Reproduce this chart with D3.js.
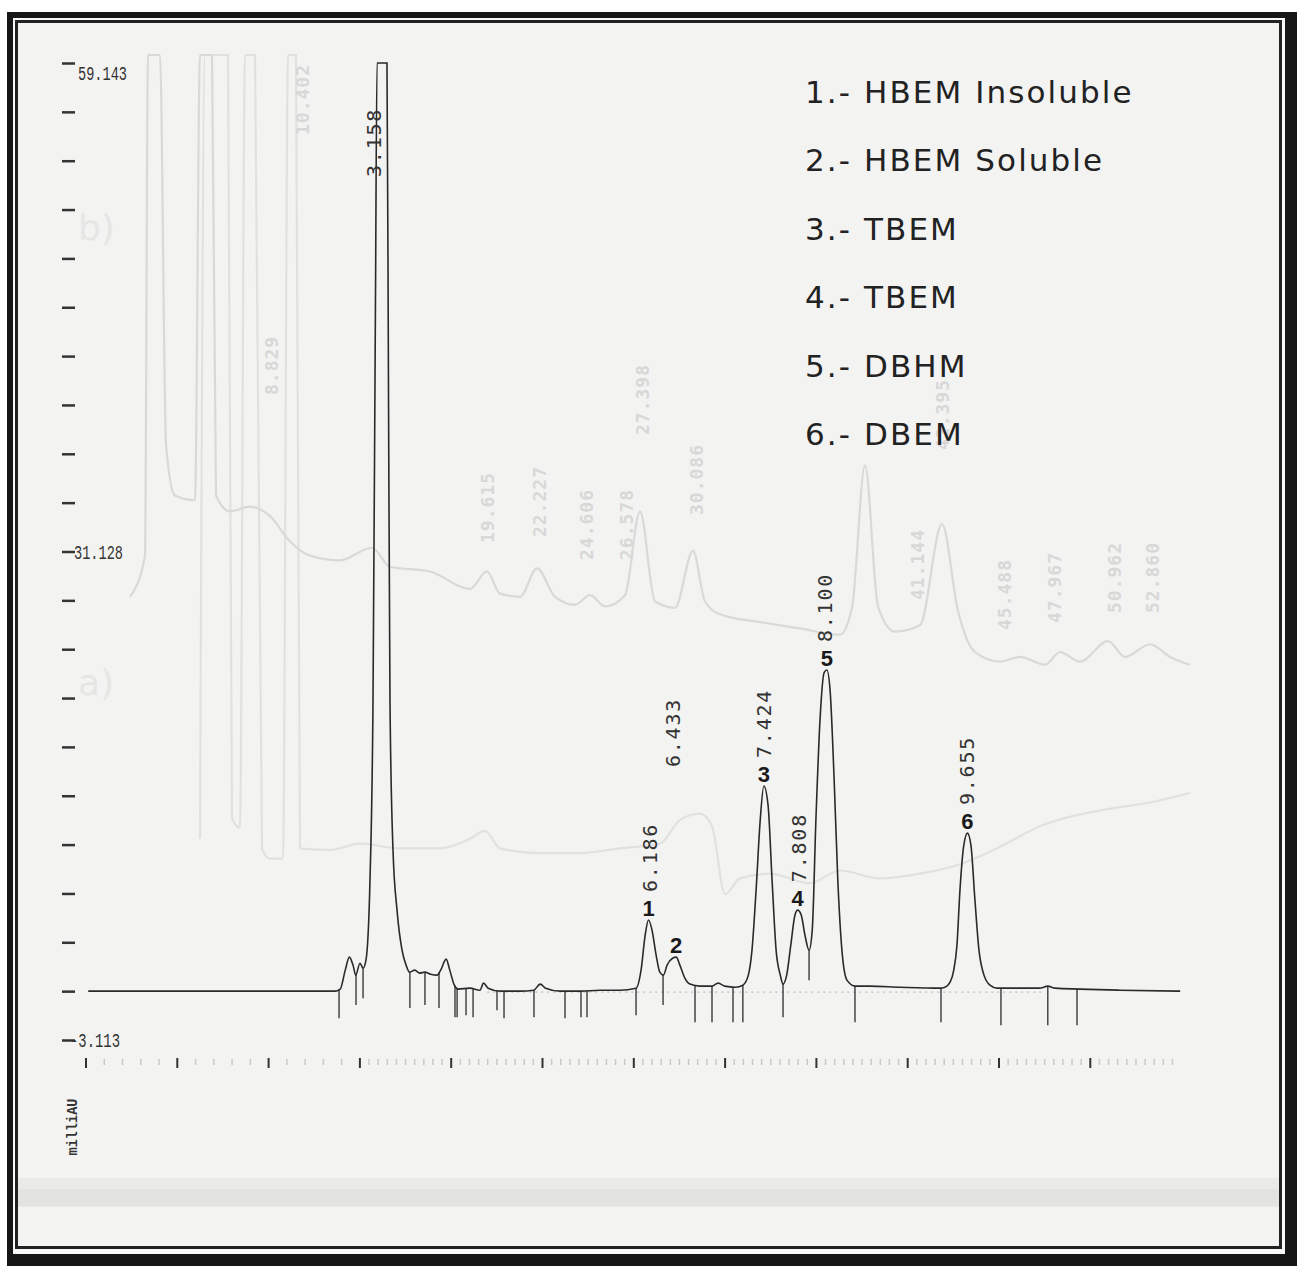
<!DOCTYPE html>
<html><head><meta charset="utf-8">
<script src="https://cdn.jsdelivr.net/npm/d3@7"></script>
<style>html,body{margin:0;padding:0;background:#fff;}svg{display:block}</style>
</head><body>
<svg id="chart" width="1297" height="1266"></svg>
<script>
// ---------------- DATA ----------------
// main chromatogram (time in min, signal in milliAU)
const mainTrace = [
 [0.03,0],[1.25,0],[2.73,0],[2.79,0.13],[2.845,1.34],[2.89,2.17],[2.93,1.66],[2.96,1.02],[3.006,1.78],[3.04,1.47],
 [3.072,1.98],[3.116,7.07],[3.149,18.5],[3.176,44.0],[3.193,59.2],[3.226,61.2],[3.258,61.2],[3.302,59.2],[3.319,37.7],[3.335,18.5],
 [3.368,8.99],[3.412,5.16],[3.467,2.61],[3.511,1.66],[3.55,1.21],[3.606,1.34],[3.66,1.15],[3.716,1.21],[3.78,1.08],[3.85,1.02],
 [3.89,1.34],[3.95,2.04],[3.99,1.34],[4.04,0.38],[4.08,0.13],[4.21,0.19],[4.32,0.06],[4.36,0.51],[4.41,0.19],[4.54,0],
 [4.76,0],[4.91,0.06],[4.98,0.45],[5.04,0.19],[5.2,0],[5.42,0],[5.64,0.06],[5.85,0.06],[6.03,0.19],[6.085,1.34],
 [6.13,3.57],[6.167,4.53],[6.205,3.89],[6.25,2.29],[6.29,1.21],[6.33,1.02],[6.37,1.66],[6.43,2.10],[6.47,2.17],[6.51,1.66],
 [6.565,0.83],[6.62,0.45],[6.73,0.32],[6.86,0.32],[6.93,0.51],[7.0,0.32],[7.12,0.25],[7.2,0.38],[7.26,1.02],[7.3,2.61],
 [7.345,6.44],[7.39,10.9],[7.43,13.07],[7.476,11.85],[7.52,7.07],[7.564,2.61],[7.61,1.02],[7.64,0.45],[7.68,1.02],[7.725,2.93],
 [7.77,4.84],[7.8,5.16],[7.84,4.84],[7.88,3.57],[7.925,2.61],[7.96,3.89],[8.0,10.9],[8.045,17.27],[8.09,20.3],[8.12,20.46],
 [8.155,19.2],[8.2,13.45],[8.24,7.07],[8.285,2.61],[8.34,0.70],[8.43,0.32],[8.59,0.32],[8.92,0.25],[9.36,0.19],[9.414,0.25],
 [9.47,0.57],[9.51,1.34],[9.545,2.93],[9.578,6.44],[9.62,9.3],[9.66,10.07],[9.698,9.3],[9.742,5.8],[9.786,2.61],[9.841,1.02],
 [9.907,0.38],[9.983,0.19],[10.12,0.19],[10.45,0.19],[10.54,0.32],[10.62,0.19],[10.89,0.13],[11.33,0.06],[11.99,0]
];
// integration marks (time, lower end in milliAU)
const dropTime = [2.777,2.963,3.04,3.553,3.718,3.872,4.047,4.07,4.168,4.245,4.507,4.584,4.912,5.252,5.427,5.493,6.03,6.326,6.676,6.862,7.092,7.2,7.64,7.925,8.428,9.37,10.027,10.54,10.86];
const dropEnd  = [-1.72,-0.89,-0.45,-1.08,-0.89,-1.08,-1.66,-1.66,-1.53,-1.66,-1.21,-1.72,-1.66,-1.72,-1.66,-1.66,-1.53,-0.89,-1.98,-1.98,-1.98,-1.98,-1.66,0.70,-1.98,-1.98,-2.17,-2.17,-2.17];
// peak annotations
const peakRT     = ["3.158","6.186","6.433","7.424","7.808","8.100","9.655"];
const peakApex   = [3.242,6.167,6.47,7.43,7.8,8.12,9.66];
const peakNumber = ["","1","2","3","4","5","6"];
// legend
const legendItems = ["1.- HBEM Insoluble","2.- HBEM Soluble","3.- TBEM","4.- TBEM","5.- DBHM","6.- DBEM"];
// axis labels
const yTickLabels = ["59.143","31.128","-3.113"];
const yMax = 59.143, yMin = -3.113;
const xMajorTicks = d3.range(0, 12);
const xMinorTicks = d3.range(0.2, 3, 0.2).concat(d3.range(3.1, 12.05, 0.1)).filter(t => Math.abs(t - Math.round(t)) > 0.01);
const yAxisLabel = "milliAU";

// faint background run (bleed-through), its own time axis
const ghostA = [
 [1.75,24.9],[2.5,27.5],[2.65,65],[3.25,65],[3.55,34.5],[4.0,31.3],[5.0,31.0],[5.25,65],[5.85,65],[6.05,31.3],
 [6.75,30.3],[7.75,30.6],[8.75,30.0],[9.75,28.4],[10.75,27.5],[12.25,27.2],[13.85,28.0],[14.75,26.8],[16.75,26.5],[18.75,25.4],
 [19.6,26.5],[20.25,25.1],[21.25,24.9],[22.1,26.7],[23.0,24.9],[24.0,24.4],[24.75,25.0],[25.5,24.3],[26.5,25.0],[27.25,30.3],
 [28.0,24.6],[29.0,24.2],[29.9,27.8],[30.5,24.6],[31.25,23.8],[33.25,23.3],[35.25,22.9],[37.25,22.5],[37.85,24.2],[38.5,33.2],
 [39.15,24.3],[40.0,22.7],[41.25,23.1],[42.35,29.5],[43.15,24.0],[44.0,21.4],[45.25,20.8],[46.25,21.1],[47.5,20.6],[48.25,21.4],
 [49.25,20.8],[50.65,22.1],[51.5,21.1],[52.75,21.9],[53.75,21.1],[54.75,20.6]
];
const ghostB = [
 [5.25,9.6],[5.5,65],[6.65,65],[6.85,10.9],[7.25,10.3],[7.5,65],[8.0,65],[8.35,9.0],[8.75,8.35],[9.4,8.35],
 [9.65,65],[10.05,65],[10.25,9.0],[11.75,8.9],[13.25,9.3],[15.25,9.0],[17.25,9.0],[18.75,9.6],[19.5,10.1],[20.25,9.0],
 [22.25,8.7],[24.25,8.7],[26.25,9.0],[28.25,9.3],[29.25,10.8],[30.25,11.2],[30.85,10.4],[31.5,6.1],[32.25,7.1],[33.75,7.4],
 [35.75,6.8],[37.25,7.6],[39.25,7.1],[41.25,7.4],[43.25,8.0],[45.25,9.1],[47.25,10.4],[50.25,11.4],[52.75,11.9],[54.75,12.5]
];
const ghostRT = ["8.829","10.402","19.615","22.227","24.606","26.578","27.398","30.086","41.144","42.395","45.488","47.967","50.962","52.860"];

// ---------------- LAYOUT ----------------
const W = 1297, H = 1266;
const plot = {x0: 85.5, pxPerMin: 91.3, yTop: 63, yBottom: 1040};
const ghostLabelBottom = [395,135,543,537,560,560,435,515,600,450,630,623,613,613];
const labelGap = 28;
const labelShift = {"3.158": 142, "6.433": -162};

const svg = d3.select("#chart");

// frame
svg.append("rect").attr("x",0).attr("y",0).attr("width",W).attr("height",H).attr("fill","#ffffff");
svg.append("rect").attr("x",7).attr("y",12).attr("width",W-7).attr("height",H-12).attr("fill","#161616");
svg.append("rect").attr("x",13).attr("y",18).attr("width",1272).attr("height",1236).attr("fill","#f8f8f8");
svg.append("rect").attr("x",16.5).attr("y",21.5).attr("width",1264).attr("height",1226)
   .attr("fill","#f3f3f2").attr("stroke","#222").attr("stroke-width",3);
// scan band
svg.append("rect").attr("x",18).attr("y",1178).attr("width",1261).attr("height",29).attr("fill","#eaeae9");
svg.append("rect").attr("x",18).attr("y",1189).attr("width",1261).attr("height",17).attr("fill","#e3e3e2");

// scales
const x = d3.scaleLinear().domain([0, 12]).range([plot.x0, plot.x0 + 12*plot.pxPerMin]);
const y = d3.scaleLinear().domain([yMin, yMax]).range([plot.yBottom, plot.yTop]).clamp(true);
const xg = d3.scaleLinear().domain([0, 55]).range([95, 1195]);
const yg = d3.scaleLinear().domain([yMin, yMax]).range([plot.yBottom, plot.yTop - 8]).clamp(true);

// ghost traces
const gline = d3.line().x(d => xg(d[0])).y(d => yg(d[1])).curve(d3.curveMonotoneX);
svg.append("path").datum(ghostB).attr("d", gline).attr("fill","none").attr("stroke","#e1e1e0").attr("stroke-width",2.2);
svg.append("path").datum(ghostA).attr("d", gline).attr("fill","none").attr("stroke","#d9d9d8").attr("stroke-width",2.2);
svg.append("g").selectAll("text").data(ghostRT).join("text")
  .attr("transform",(d,i)=>`translate(${xg(+d)},${ghostLabelBottom[i]}) rotate(-90)`)
  .attr("dy","0.35em")
  .attr("font-family","'DejaVu Sans Mono', monospace").attr("font-size",18).attr("font-weight","bold")
  .attr("fill","#d8d8d7").attr("letter-spacing",1).text(d=>d);
svg.append("text").attr("x",78).attr("y",240).attr("font-family","'DejaVu Sans'").attr("font-size",36)
  .attr("fill","#e6e6e5").text("b)");
svg.append("text").attr("x",78).attr("y",695).attr("font-family","'DejaVu Sans'").attr("font-size",36)
  .attr("fill","#e6e6e5").text("a)");

// y axis
const yIdx = d3.scaleLinear().domain([0, 20]).range([y(yMax), y(yMin)]);
const yAxisG = svg.append("g").attr("transform","translate(75,0)")
  .call(d3.axisLeft(yIdx).tickValues(d3.range(0,21)).tickSize(13).tickFormat(""));
yAxisG.select(".domain").remove();
yAxisG.selectAll(".tick line").attr("stroke","#333").attr("stroke-width",2.5);
const yLabIdx = [0,10,20];
const yLabX = [78, 74, 70];
const yLabDy = [17, 7, 7];
svg.append("g").selectAll("text").data(yTickLabels).join("text")
  .attr("x",(d,i)=>yLabX[i]).attr("y",(d,i)=>yIdx(yLabIdx[i]) + yLabDy[i])
  .attr("font-family","'Liberation Mono', monospace").attr("font-size",21)
  .attr("textLength",(d,i)=> i===2 ? 50 : 49).attr("lengthAdjust","spacingAndGlyphs")
  .attr("fill","#333").text(d=>d);
svg.append("text").attr("transform","translate(72,1127) rotate(-90)")
  .attr("text-anchor","middle").attr("dy","0.35em")
  .attr("font-family","'Liberation Mono', monospace").attr("font-size",15).attr("font-weight","bold")
  .attr("textLength",57).attr("lengthAdjust","spacingAndGlyphs")
  .attr("fill","#333").text(yAxisLabel);

// x axis
const xMinorG = svg.append("g").attr("transform","translate(0,1059)")
  .call(d3.axisBottom(x).tickValues(xMinorTicks).tickSize(6).tickFormat(""));
xMinorG.select(".domain").remove();
xMinorG.selectAll(".tick line").attr("stroke","#c8c8c8").attr("stroke-width",1.5);
const xMajorG = svg.append("g").attr("transform","translate(0,1058)")
  .call(d3.axisBottom(x).tickValues(xMajorTicks).tickSize(10).tickFormat(""));
xMajorG.select(".domain").remove();
xMajorG.selectAll(".tick line").attr("stroke","#333").attr("stroke-width",2);

// dotted integration baseline
svg.append("line").attr("x1",x(4.4)).attr("x2",x(10.5)).attr("y1",y(0)+1).attr("y2",y(0)+1)
  .attr("stroke","#bdbdbd").attr("stroke-width",1.2).attr("stroke-dasharray","2,4");

// drop lines
const bis = d3.bisector(d => d[0]).left;
function valueAt(t){
  const i = Math.max(1, Math.min(mainTrace.length-1, bis(mainTrace, t)));
  const a = mainTrace[i-1], b = mainTrace[i];
  return a[1] + (b[1]-a[1]) * (t-a[0])/(b[0]-a[0]);
}
svg.append("g").selectAll("line").data(dropTime).join("line")
  .attr("x1",d=>x(d)).attr("x2",d=>x(d))
  .attr("y1",d=>y(valueAt(d))).attr("y2",(d,i)=>y(dropEnd[i]))
  .attr("stroke","#3a3a3a").attr("stroke-width",1.4);

// main trace
const line = d3.line().x(d => x(d[0])).y(d => y(d[1])).curve(d3.curveMonotoneX);
svg.append("path").datum(mainTrace).attr("d", line).attr("fill","none")
  .attr("stroke","#2a2a2a").attr("stroke-width",1.6);

// peak RT labels
svg.append("g").selectAll("text").data(peakRT).join("text")
  .attr("transform",(d,i)=>{
     const by = y(valueAt(peakApex[i])) - labelGap + (labelShift[d] || 0);
     return `translate(${x(+d)},${by}) rotate(-90)`;
  })
  .attr("dy","0.36em")
  .attr("font-family","'DejaVu Sans Mono', monospace").attr("font-size",20)
  .attr("letter-spacing",1.8).attr("fill","#333").text(d=>d);

// peak numbers
svg.append("g").selectAll("text").data(peakNumber.filter(d=>d!=="")).join("text")
  .attr("x",(d,i)=>x(peakApex[i+1]))
  .attr("y",(d,i)=>y(valueAt(peakApex[i+1])) - 4)
  .attr("text-anchor","middle")
  .attr("font-family","'Liberation Sans', Arial, sans-serif").attr("font-size",22).attr("font-weight","bold")
  .attr("fill","#1a1a1a").text(d=>d);

// legend
svg.append("g").selectAll("text").data(legendItems).join("text")
  .attr("x",805).attr("y",(d,i)=>103 + i*68.4)
  .attr("font-family","'DejaVu Sans', sans-serif").attr("font-size",31)
  .attr("letter-spacing",2.1).attr("fill","#222").text(d=>d);
</script>
</body></html>
